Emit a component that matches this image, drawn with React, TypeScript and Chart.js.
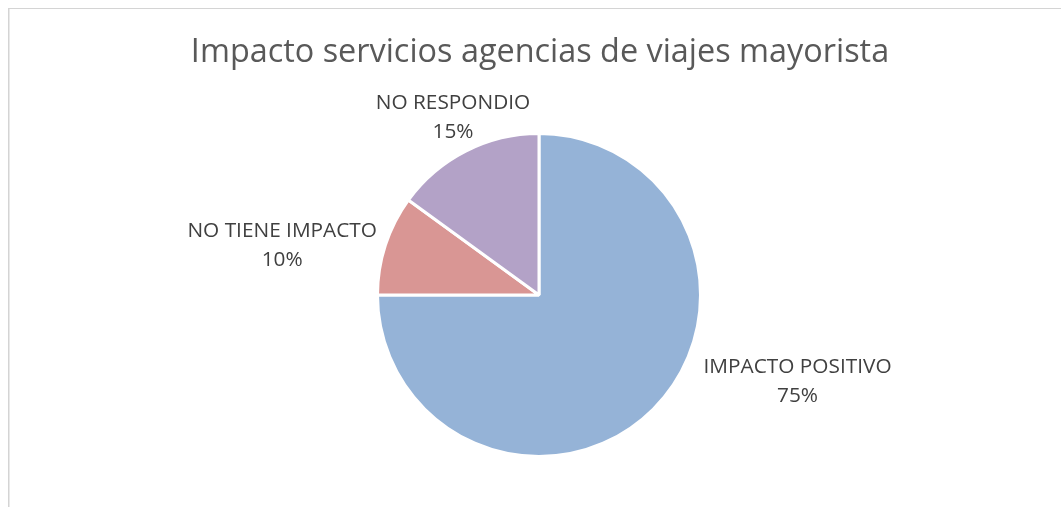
import { useEffect, useRef } from "react";
import { Chart, registerables } from "chart.js";

Chart.register(...registerables);

const chartTitle = "Impacto servicios agencias de viajes mayorista";
const categories = ["IMPACTO POSITIVO", "NO TIENE IMPACTO", "NO RESPONDIO"];
const values = [75, 10, 15];
const sliceColors = ["#95B3D7", "#D99694", "#B3A2C7"];
// label centre offsets, in units of the pie radius, from the pie centre
const labelOffsets: [number, number][] = [
  [1.616, 0.54],
  [-1.605, -0.306],
  [-0.5375, -1.11],
];

const FONT = "'Open Sans', 'Noto Sans', sans-serif";

const framePlugin = {
  id: "excelFrame",
  beforeDraw(chart: any) {
    const ctx = chart.ctx;
    ctx.save();
    ctx.fillStyle = "#D4D4D4";
    ctx.fillRect(0, 0, 1.5, chart.height);
    ctx.fillRect(0, 0, chart.width, 1);
    ctx.restore();
  },
};

const labelPlugin = {
  id: "excelLabels",
  afterDraw(chart: any) {
    const ctx = chart.ctx;
    const meta = chart.getDatasetMeta(0);
    const first = meta.data[0];
    if (!first) return;
    const { x, y, outerRadius } = first.getProps(["x", "y", "outerRadius"], true);
    const r = outerRadius - 1.5;
    ctx.save();
    // title
    ctx.fillStyle = "#595959";
    ctx.font = `32.4px ${FONT}`;
    ctx.textAlign = "center";
    ctx.textBaseline = "middle";
    ctx.fillText(chartTitle, x + 1, 45);
    // data labels
    const total = values.reduce((a, b) => a + b, 0);
    ctx.fillStyle = "#404040";
    ctx.font = `20.8px ${FONT}`;
    categories.forEach((c, i) => {
      const [ox, oy] = labelOffsets[i];
      const cx = x + ox * r;
      const cy = y + oy * r;
      const pct = Math.round((values[i] / total) * 100) + "%";
      ctx.fillText(c, cx, cy - 14.5);
      ctx.fillText(pct, cx, cy + 14.5);
    });
    ctx.restore();
  },
};

export default function App() {
  const ref = useRef<HTMLCanvasElement | null>(null);
  useEffect(() => {
    if (!ref.current) return;
    const chart = new Chart(ref.current, {
      type: "pie",
      data: {
        labels: categories,
        datasets: [
          {
            data: values,
            backgroundColor: sliceColors,
            borderColor: "#FFFFFF",
            borderWidth: 3,
          },
        ],
      },
      options: {
        animation: false,
        responsive: false,
        maintainAspectRatio: false,
        layout: { padding: { left: 368, right: 359, top: 124, bottom: 49 } },
        plugins: {
          legend: { display: false },
          tooltip: { enabled: false },
          title: { display: false },
        },
      },
      plugins: [framePlugin, labelPlugin],
    });
    return () => chart.destroy();
  }, []);
  return (
    <div style={{ position: "fixed", left: 8, top: 8, width: 1053, height: 499, overflow: "hidden" }}>
      <canvas ref={ref} width={1053} height={499} style={{ display: "block", width: 1053, height: 499 }} />
    </div>
  );
}
